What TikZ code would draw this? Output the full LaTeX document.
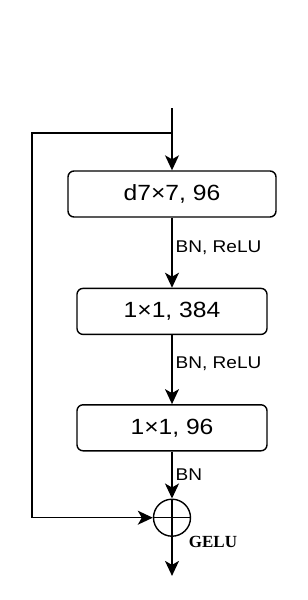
\documentclass[tikz,border=0pt]{standalone}
\usepackage{fontspec}
\setmainfont[FakeStretch=1.12]{Liberation Sans}
\newfontfamily\gelufont{Liberation Serif}
\usetikzlibrary{arrows.meta,positioning}

\begin{document}
\begin{tikzpicture}[x=1pt,y=1pt,every node/.style={font=\fontsize{22}{26}\selectfont}]
  \tikzset{blk/.style={draw,rounded corners=6pt,minimum height=46pt,line width=1.4pt,inner sep=0pt},
        lbl/.style={font=\fontsize{17}{20}\selectfont,right,inner sep=3pt},
        arr/.style={line width=1.4pt,-{Stealth[length=15pt,width=14pt,inset=4pt]}},
        addop/.style={draw,circle,line width=1.4pt,minimum size=37pt,inner sep=0pt,
        path picture={\draw[line width=1.4pt] (path picture bounding box.north) -- (path picture bounding box.south)
        (path picture bounding box.west) -- (path picture bounding box.east);}}}
  \useasboundingbox (0,0) rectangle (308,-600);
  \coordinate (in) at (172,-108);
  \coordinate (split) at (172,-133);
  \coordinate (skip) at (32,-133);
  \node[blk,minimum width=208pt] (dconv) at (172,-194) {d7×7, 96};
  \node[blk,minimum width=190pt, below=70pt of dconv] (pwup) {1×1, 384};
  \node[blk,minimum width=190pt, below=69pt of pwup] (pwdown) {1×1, 96};
  \node[addop, below=47pt of pwdown] (add) {};
  \coordinate[below=39pt of add] (out);
  \node[font=\gelufont\bfseries\fontsize{17}{20}\selectfont] (act) at (213,-542) {GELU};
  \draw[arr] (in)--(dconv);
  \draw[arr] (dconv)--(pwup) node[lbl,pos=0.43]{BN, ReLU};
  \draw[arr] (pwup)--(pwdown) node[lbl,pos=0.42]{BN, ReLU};
  \draw[arr] (pwdown)--(add) node[lbl,midway]{BN};
  \draw[arr] (split)--(skip)|-(add);
  \draw[arr] (add)--(out);
\end{tikzpicture}
\end{document}
